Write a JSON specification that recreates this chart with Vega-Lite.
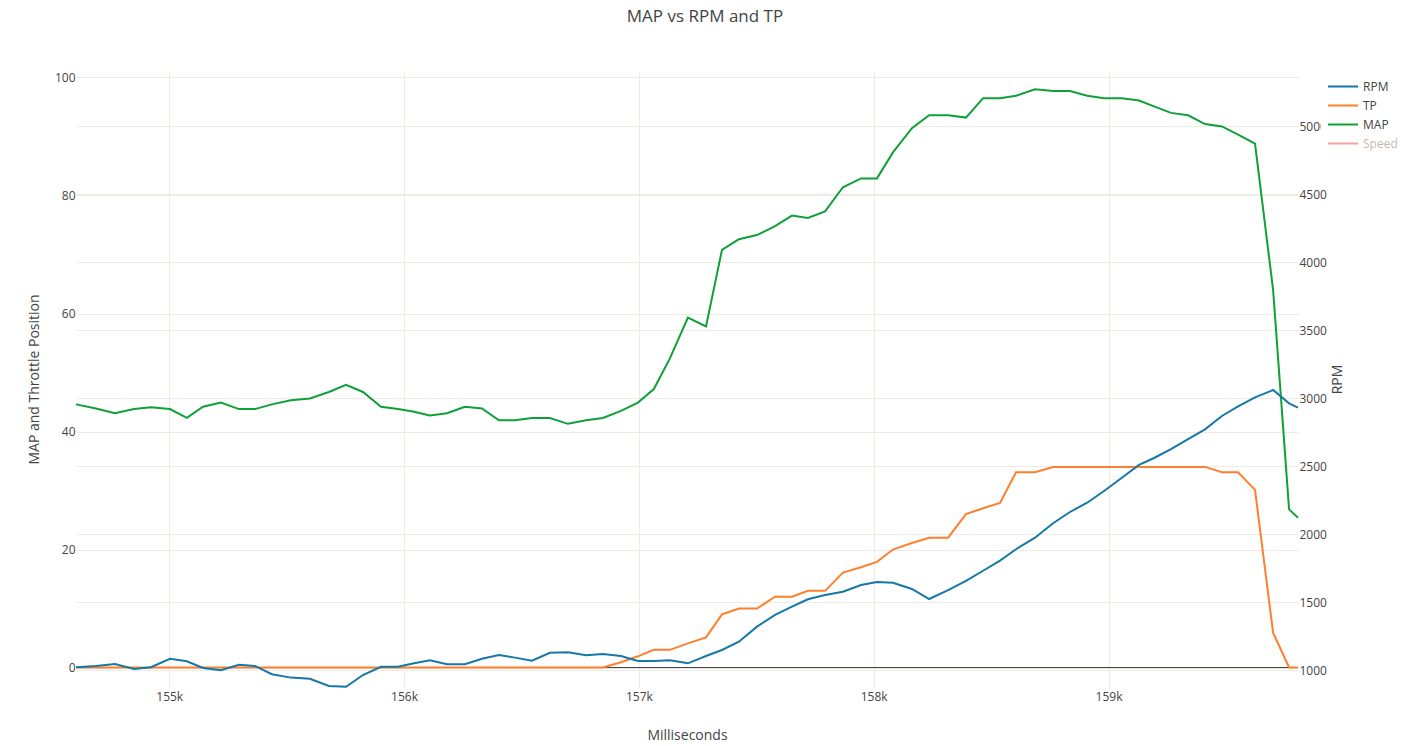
{
  "$schema": "https://vega.github.io/schema/vega-lite/v6.json",
  "autosize": {"type": "none"},
  "width": 1222,
  "height": 616,
  "padding": {"left": 76, "top": 71, "right": 108, "bottom": 59},
  "background": "white",
  "config": {
    "font": "Open Sans",
    "view": {"stroke": null},
    "axis": {
      "gridColor": "#eeebe4",
      "gridWidth": 1,
      "domain": false,
      "ticks": false,
      "labelFont": "Open Sans",
      "labelFontSize": 12,
      "labelColor": "#444",
      "titleFont": "Open Sans",
      "titleFontSize": 14,
      "titleColor": "#444",
      "titleFontWeight": "normal"
    }
  },
  "title": {
    "text": "MAP vs RPM and TP",
    "font": "Open Sans",
    "fontSize": 17,
    "fontWeight": "normal",
    "color": "#444",
    "anchor": "middle",
    "frame": "group",
    "dx": 18,
    "offset": 45
  },
  "data": {
    "values": [
      {"ms": 154603, "MAP": 44.6, "TP": 0, "RPM": 1022},
      {"ms": 154688, "MAP": 43.9, "TP": 0, "RPM": 1032},
      {"ms": 154769, "MAP": 43.1, "TP": 0, "RPM": 1046},
      {"ms": 154850, "MAP": 43.8, "TP": 0, "RPM": 1010},
      {"ms": 154922, "MAP": 44.1, "TP": 0, "RPM": 1022},
      {"ms": 155003, "MAP": 43.8, "TP": 0, "RPM": 1085},
      {"ms": 155075, "MAP": 42.3, "TP": 0, "RPM": 1066},
      {"ms": 155144, "MAP": 44.2, "TP": 0, "RPM": 1017},
      {"ms": 155220, "MAP": 44.9, "TP": 0, "RPM": 1000},
      {"ms": 155297, "MAP": 43.8, "TP": 0, "RPM": 1041},
      {"ms": 155365, "MAP": 43.8, "TP": 0, "RPM": 1032},
      {"ms": 155437, "MAP": 44.6, "TP": 0, "RPM": 971},
      {"ms": 155518, "MAP": 45.3, "TP": 0, "RPM": 946},
      {"ms": 155599, "MAP": 45.6, "TP": 0, "RPM": 938},
      {"ms": 155680, "MAP": 46.7, "TP": 0, "RPM": 885},
      {"ms": 155753, "MAP": 47.9, "TP": 0, "RPM": 879},
      {"ms": 155825, "MAP": 46.7, "TP": 0, "RPM": 965},
      {"ms": 155902, "MAP": 44.2, "TP": 0, "RPM": 1026},
      {"ms": 155974, "MAP": 43.8, "TP": 0, "RPM": 1026},
      {"ms": 156038, "MAP": 43.4, "TP": 0, "RPM": 1050},
      {"ms": 156110, "MAP": 42.7, "TP": 0, "RPM": 1074},
      {"ms": 156183, "MAP": 43.1, "TP": 0, "RPM": 1044},
      {"ms": 156259, "MAP": 44.2, "TP": 0, "RPM": 1044},
      {"ms": 156332, "MAP": 43.9, "TP": 0, "RPM": 1085},
      {"ms": 156404, "MAP": 41.9, "TP": 0, "RPM": 1112},
      {"ms": 156472, "MAP": 41.9, "TP": 0, "RPM": 1093},
      {"ms": 156545, "MAP": 42.3, "TP": 0, "RPM": 1071},
      {"ms": 156621, "MAP": 42.3, "TP": 0, "RPM": 1129},
      {"ms": 156698, "MAP": 41.3, "TP": 0, "RPM": 1132},
      {"ms": 156775, "MAP": 41.9, "TP": 0, "RPM": 1110},
      {"ms": 156847, "MAP": 42.3, "TP": 0, "RPM": 1120},
      {"ms": 156924, "MAP": 43.5, "TP": 0.9, "RPM": 1105},
      {"ms": 156996, "MAP": 44.9, "TP": 1.9, "RPM": 1068},
      {"ms": 157064, "MAP": 47.2, "TP": 3.0, "RPM": 1068},
      {"ms": 157132, "MAP": 52.4, "TP": 3.0, "RPM": 1074},
      {"ms": 157209, "MAP": 59.3, "TP": 4.1, "RPM": 1051},
      {"ms": 157286, "MAP": 57.8, "TP": 5.1, "RPM": 1105},
      {"ms": 157354, "MAP": 70.8, "TP": 9.0, "RPM": 1149},
      {"ms": 157426, "MAP": 72.6, "TP": 10.0, "RPM": 1210},
      {"ms": 157503, "MAP": 73.3, "TP": 10.0, "RPM": 1321},
      {"ms": 157580, "MAP": 74.8, "TP": 12.0, "RPM": 1407},
      {"ms": 157652, "MAP": 76.6, "TP": 12.0, "RPM": 1468},
      {"ms": 157720, "MAP": 76.2, "TP": 13.0, "RPM": 1522},
      {"ms": 157793, "MAP": 77.3, "TP": 13.0, "RPM": 1554},
      {"ms": 157869, "MAP": 81.4, "TP": 16.1, "RPM": 1578},
      {"ms": 157946, "MAP": 82.9, "TP": 17.0, "RPM": 1627},
      {"ms": 158014, "MAP": 82.9, "TP": 17.9, "RPM": 1649},
      {"ms": 158082, "MAP": 87.3, "TP": 20.0, "RPM": 1644},
      {"ms": 158163, "MAP": 91.4, "TP": 21.1, "RPM": 1598},
      {"ms": 158236, "MAP": 93.6, "TP": 22.0, "RPM": 1524},
      {"ms": 158317, "MAP": 93.6, "TP": 22.0, "RPM": 1590},
      {"ms": 158393, "MAP": 93.2, "TP": 26.0, "RPM": 1657},
      {"ms": 158466, "MAP": 96.5, "TP": 27.0, "RPM": 1732},
      {"ms": 158538, "MAP": 96.5, "TP": 27.9, "RPM": 1806},
      {"ms": 158606, "MAP": 96.9, "TP": 33.1, "RPM": 1890},
      {"ms": 158687, "MAP": 98.0, "TP": 33.1, "RPM": 1975},
      {"ms": 158764, "MAP": 97.7, "TP": 34.0, "RPM": 2081},
      {"ms": 158836, "MAP": 97.7, "TP": 34.0, "RPM": 2164},
      {"ms": 158909, "MAP": 96.9, "TP": 34.0, "RPM": 2232},
      {"ms": 158981, "MAP": 96.5, "TP": 34.0, "RPM": 2318},
      {"ms": 159057, "MAP": 96.5, "TP": 34.0, "RPM": 2416},
      {"ms": 159130, "MAP": 96.1, "TP": 34.0, "RPM": 2510},
      {"ms": 159194, "MAP": 95.1, "TP": 34.0, "RPM": 2561},
      {"ms": 159266, "MAP": 94.0, "TP": 34.0, "RPM": 2627},
      {"ms": 159339, "MAP": 93.6, "TP": 34.0, "RPM": 2699},
      {"ms": 159411, "MAP": 92.1, "TP": 34.0, "RPM": 2772},
      {"ms": 159483, "MAP": 91.7, "TP": 33.1, "RPM": 2870},
      {"ms": 159552, "MAP": 90.3, "TP": 33.1, "RPM": 2940},
      {"ms": 159624, "MAP": 88.8, "TP": 30.1, "RPM": 3007},
      {"ms": 159701, "MAP": 64.0, "TP": 5.9, "RPM": 3061},
      {"ms": 159769, "MAP": 26.8, "TP": 0, "RPM": 2963},
      {"ms": 159807, "MAP": 25.4, "TP": 0, "RPM": 2931}
    ]
  },
  "layer": [
    {
      "layer": [
        {
          "data": {"values": [{"zero": 0}]},
          "mark": {"type": "rule", "color": "#444", "strokeWidth": 1},
          "encoding": {"y": {"field": "zero", "type": "quantitative"}}
        },
        {
          "transform": [{"fold": ["TP", "MAP"], "as": ["series", "val"]}],
          "mark": {"type": "line", "strokeWidth": 2},
          "encoding": {
            "x": {
              "field": "ms",
              "type": "quantitative",
              "scale": {"domain": [154603, 159807], "nice": false, "zero": false},
              "axis": {
                "values": [155000, 156000, 157000, 158000, 159000],
                "labelExpr": "(datum.value / 1000) + 'k'",
                "title": "Milliseconds",
                "labelPadding": 4,
                "titlePadding": 26,
                "grid": true
              }
            },
            "y": {
              "field": "val",
              "type": "quantitative",
              "scale": {"domain": [-3.3, 101.1], "nice": false, "zero": false},
              "axis": {
                "orient": "left",
                "values": [0, 20, 40, 60, 80, 100],
                "title": "MAP and Throttle Position",
                "labelPadding": 1,
                "titlePadding": 13,
                "grid": true
              }
            },
            "color": {
              "field": "series",
              "type": "nominal",
              "scale": {
                "domain": ["RPM", "TP", "MAP", "Speed"],
                "range": ["#1777a5", "#ff7f2e", "#10a03a", "#f6a4a0"]
              },
              "legend": {
                "orient": "none",
                "legendX": 1245,
                "legendY": 0,
                "title": null,
                "symbolType": "stroke",
                "symbolSize": 900,
                "symbolStrokeWidth": 2,
                "clipHeight": 19,
                "rowPadding": 0,
                "labelOffset": 4,
                "labelFont": "Open Sans",
                "labelFontSize": 12,
                "labelColor": "#444",
                "padding": 6,
                "fillColor": "white",
                "zindex": 1,
                "encode": {
                  "labels": {
                    "update": {
                      "fill": {"signal": "datum.value === 'Speed' ? '#c4bbb2' : '#444'"}
                    }
                  }
                }
              }
            }
          }
        }
      ]
    },
    {
      "mark": {"type": "line", "strokeWidth": 2},
      "encoding": {
        "x": {
          "field": "ms",
          "type": "quantitative",
          "scale": {"domain": [154603, 159807], "nice": false, "zero": false}
        },
        "y": {
          "field": "RPM",
          "type": "quantitative",
          "scale": {"domain": [877, 5407], "nice": false, "zero": false},
          "axis": {
            "orient": "right",
            "values": [1000, 1500, 2000, 2500, 3000, 3500, 4000, 4500, 5000],
            "format": "d",
            "title": "RPM",
            "titleAngle": 270,
            "labelPadding": 1,
            "titlePadding": 18,
            "grid": true
          }
        },
        "color": {"datum": "RPM"}
      }
    }
  ],
  "resolve": {"scale": {"y": "independent"}}
}
